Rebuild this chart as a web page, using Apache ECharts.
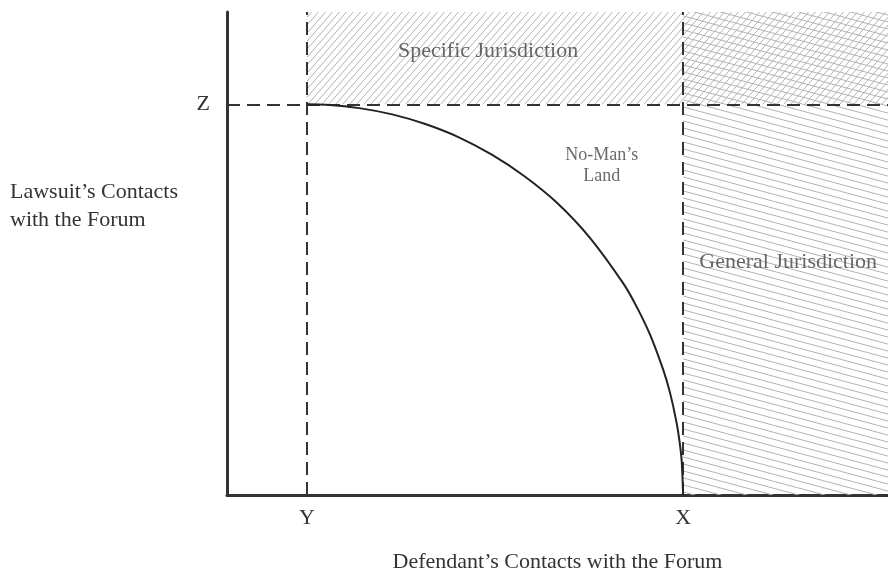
<!DOCTYPE html>
<html>
<head>
<meta charset="utf-8">
<script src="https://cdn.jsdelivr.net/npm/echarts@6/dist/echarts.min.js"></script>
<style>
  html, body { margin: 0; padding: 0; background: #fff; }
  #main { width: 888px; height: 578px; }
</style>
</head>
<body>
<div id="main"></div>
<script>
// axis positions (abstract units 0..100 on both axes)
var xMarks = [12.1, 69];          // Y, X
var xMarkNames = ['Y', 'X'];
var yMarks = [80.9];              // Z
var yMarkNames = ['Z'];

// boundary curve
var curveX = [12.1, 15, 20, 25, 30, 35, 40, 45, 50, 55, 60, 62, 64, 66, 67, 68, 68.5, 68.8, 69];
var curveY = [80.9, 80.8, 80.1, 78.8, 76.8, 74.1, 70.5, 66.0, 60.4, 53.1, 43.7, 38.9, 33.2, 25.9, 21.3, 15.1, 10.7, 6.8, 0];

// region labels
var regionNames = ['Specific Jurisdiction', 'No-Man\u2019s\nLand', 'General Jurisdiction'];
var regionX = [39.5, 56.7, 84.9];
var regionY = [91.8, 68.2, 48.2];

var font = '"Liberation Serif", "DejaVu Serif", serif';

// hatch patterns
function hatch(w, h, dir) {
  var c = document.createElement('canvas');
  c.width = w; c.height = h;
  var ctx = c.getContext('2d');
  ctx.strokeStyle = '#b3b3b3';
  ctx.lineWidth = 1;
  for (var k = -1; k <= 1; k++) {
    ctx.beginPath();
    if (dir === '/') {
      ctx.moveTo(k * w, h);
      ctx.lineTo(k * w + w, 0);
    } else {
      ctx.moveTo(0, k * h);
      ctx.lineTo(w, k * h + h);
    }
    ctx.stroke();
  }
  return { image: c, repeat: 'repeat' };
}
var slashFill = hatch(7, 8, '/');
var backFill = hatch(26, 7, '\\');

var curve = curveX.map(function (x, i) { return [x, curveY[i]]; });
var labels = regionNames.map(function (n, i) {
  var d = { name: n, value: [regionX[i], regionY[i]] };
  if (i === 1) d.label = { fontSize: 18, lineHeight: 21 };
  return d;
});

var chart = echarts.init(document.getElementById('main'));
chart.setOption({
  animation: false,
  grid: { left: 227, right: 0, top: 12, bottom: 78 },
  xAxis: {
    type: 'value', min: 0, max: 100,
    name: 'Defendant\u2019s Contacts with the Forum',
    nameLocation: 'middle', nameGap: 56,
    nameTextStyle: { fontFamily: font, fontSize: 22, color: '#333' },
    axisLine: { show: true, lineStyle: { color: '#333', width: 3 } },
    axisTick: { show: false },
    splitLine: { show: false },
    axisLabel: {
      customValues: xMarks,
      formatter: function (v) { return xMarkNames[xMarks.indexOf(v)] || ''; },
      fontFamily: font, fontSize: 22, color: '#333', margin: 12
    }
  },
  yAxis: {
    type: 'value', min: 0, max: 100,
    axisLine: { show: true, lineStyle: { color: '#333', width: 3 } },
    axisTick: { show: false },
    splitLine: { show: false },
    axisLabel: {
      customValues: yMarks,
      formatter: function (v) { return yMarkNames[yMarks.indexOf(v)] || ''; },
      fontFamily: font, fontSize: 22, color: '#333', margin: 17
    }
  },
  graphic: [{
    type: 'text', left: 10, top: 178,
    style: {
      text: 'Lawsuit\u2019s Contacts\nwith the Forum',
      font: '22px ' + font, fill: '#333', lineHeight: 28
    }
  }],
  series: [{
    type: 'line',
    data: curve,
    smooth: 0.3,
    symbol: 'none',
    lineStyle: { color: '#222', width: 2 },
    z: 5,
    markLine: {
      silent: true, symbol: 'none',
      label: { show: false },
      lineStyle: { color: '#333', width: 2, type: [13, 7] },
      data: [{ xAxis: xMarks[0] }, { xAxis: xMarks[1] }, { yAxis: yMarks[0] }]
    },
    markArea: {
      silent: true,
      data: [
        [{ coord: [xMarks[0], yMarks[0]], itemStyle: { color: slashFill } }, { coord: [100, 100] }],
        [{ coord: [xMarks[1], 0], itemStyle: { color: backFill } }, { coord: [100, 100] }]
      ]
    }
  }, {
    type: 'scatter',
    data: labels,
    symbolSize: 0,
    z: 6,
    label: {
      show: true, position: 'inside',
      formatter: '{b}',
      fontFamily: font, fontSize: 22, color: '#444', lineHeight: 26
    },
    emphasis: { disabled: true }
  }]
});
</script>
</body>
</html>
